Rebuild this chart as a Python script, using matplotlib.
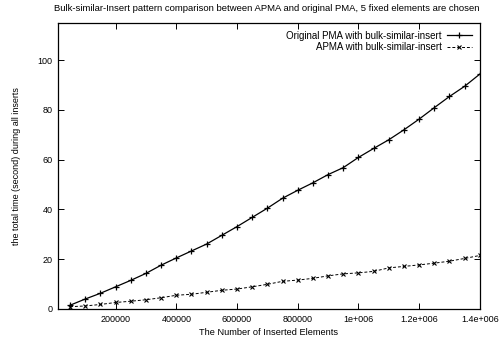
import matplotlib
matplotlib.use("Agg")
import matplotlib.pyplot as plt
from matplotlib.ticker import FixedLocator, FixedFormatter

plt.rcParams['font.family'] = ['Liberation Sans', 'DejaVu Sans']

elements = [50000 * i for i in range(1, 29)]
pma = [1.5, 4.0, 6.3, 8.9, 11.5, 14.3, 17.6, 20.5, 23.3, 26.1, 29.6, 33.1, 36.8, 40.5,
       44.5, 47.7, 50.7, 54.0, 56.8, 60.9, 64.5, 68.0, 72.0, 76.3, 80.9, 85.4, 89.5, 94.4]
apma = [0.9, 1.2, 1.8, 2.6, 3.1, 3.7, 4.5, 5.5, 5.9, 6.7, 7.5, 8.0, 8.9, 9.9,
        11.1, 11.6, 12.3, 13.3, 14.1, 14.5, 15.1, 16.5, 17.1, 17.7, 18.4, 19.2, 20.3, 21.5]

xtick_vals = [200000, 400000, 600000, 800000, 1000000, 1200000, 1400000]
xtick_labels = ['200000', '400000', '600000', '800000', '1e+006', '1.2e+006', '1.4e+006']
ytick_vals = [0, 20, 40, 60, 80, 100]

fig = plt.figure(figsize=(5.04, 3.41), dpi=100)
ax = fig.add_axes([0.115, 0.094, 0.837, 0.839])

ax.plot(elements, pma, color='black', lw=0.9, marker='+', ms=4, mew=0.9,
        label='Original PMA with bulk-similar-insert')
ax.plot(elements, apma, color='black', lw=0.7, ls=(0, (3, 2)), marker='x', ms=3.2, mew=0.8,
        label='APMA with bulk-similar-insert')

ax.set_xlim(10000, 1400000)
ax.set_ylim(0, 115)
ax.xaxis.set_major_locator(FixedLocator(xtick_vals))
ax.xaxis.set_major_formatter(FixedFormatter(xtick_labels))
ax.yaxis.set_major_locator(FixedLocator(ytick_vals))
ax.tick_params(direction='in', top=True, right=True, length=4, width=0.7, labelsize=6.5, pad=4)
for s in ax.spines.values():
    s.set_linewidth(0.9)

ax.set_xlabel('The Number of Inserted Elements', fontsize=6.7, labelpad=3)
ax.set_ylabel('the total time (second) during all inserts', fontsize=6.5, labelpad=12)
fig.suptitle('Bulk-similar-Insert pattern comparison between APMA and original PMA, 5 fixed elements are chosen',
             fontsize=6.8, y=0.988, x=0.53)

leg = ax.legend(loc='upper right', frameon=False, markerfirst=False, fontsize=7,
                handlelength=2.6, borderaxespad=0.6, labelspacing=0.15, handletextpad=0.5,
                borderpad=0.2)
for t in leg.get_texts():
    t.set_ha('right')
leg._legend_box.align = 'right'

fig.savefig('out.png', dpi=100)
